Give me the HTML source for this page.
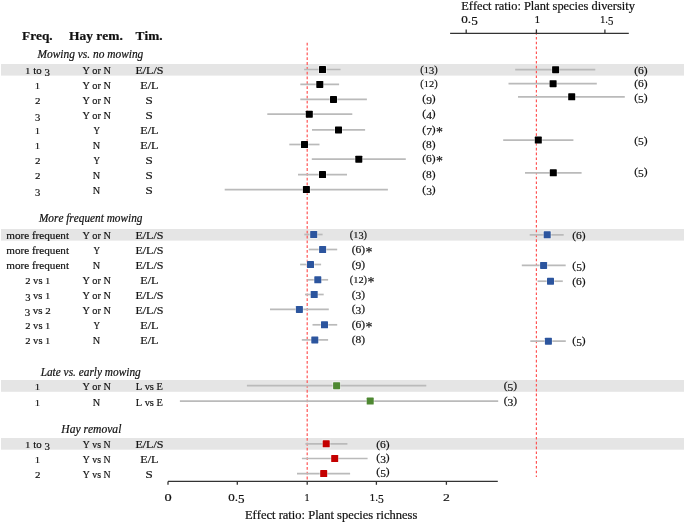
<!DOCTYPE html><html><head><meta charset="utf-8"><style>html,body{margin:0;padding:0;background:#fff;}svg{display:block;will-change:transform;}text{font-family:"Liberation Serif", serif;fill:#111;font-kerning:none;font-variant-ligatures:none;white-space:pre;stroke:#111;stroke-width:0.2px;}</style></head><body>
<svg width="685" height="523" viewBox="0 0 685 523">
<rect x="1" y="64" width="683" height="11.6" fill="#e5e5e5"/>
<rect x="1" y="229" width="683" height="11.6" fill="#e5e5e5"/>
<rect x="1" y="380" width="683" height="11.8" fill="#e5e5e5"/>
<rect x="1" y="438" width="683" height="11.7" fill="#e5e5e5"/>
<line x1="307.2" y1="42.8" x2="307.2" y2="481" stroke="#ff5555" stroke-width="1.2" stroke-dasharray="2.8 2.02"/>
<line x1="536.4" y1="32.1" x2="536.4" y2="477" stroke="#ff5555" stroke-width="1.2" stroke-dasharray="2.6 2.22"/>
<g stroke="#333" stroke-width="1.3" fill="none">
<line x1="168" y1="481.4" x2="497.8" y2="481.4"/>
<line x1="168.0" y1="481.4" x2="168.0" y2="484.8"/>
<line x1="237.3" y1="481.4" x2="237.3" y2="484.8"/>
<line x1="307.2" y1="481.4" x2="307.2" y2="484.8"/>
<line x1="376.4" y1="481.4" x2="376.4" y2="484.8"/>
<line x1="446.4" y1="481.4" x2="446.4" y2="484.8"/>
<line x1="450.1" y1="33.4" x2="628.8" y2="33.4"/>
<line x1="466.2" y1="29.4" x2="466.2" y2="33.4"/>
<line x1="536.4" y1="29.4" x2="536.4" y2="33.4"/>
<line x1="604.9" y1="29.4" x2="604.9" y2="33.4"/>
</g>
<line x1="304.1" y1="69.5" x2="340.6" y2="69.5" stroke="#bababa" stroke-width="1.7"/>
<line x1="300.3" y1="84.4" x2="339.1" y2="84.4" stroke="#bababa" stroke-width="1.7"/>
<line x1="300.3" y1="99.4" x2="366.9" y2="99.4" stroke="#bababa" stroke-width="1.7"/>
<line x1="267.3" y1="114.2" x2="352.3" y2="114.2" stroke="#bababa" stroke-width="1.7"/>
<line x1="312" y1="129.9" x2="365.1" y2="129.9" stroke="#bababa" stroke-width="1.7"/>
<line x1="289.3" y1="144.5" x2="319.5" y2="144.5" stroke="#bababa" stroke-width="1.7"/>
<line x1="311.8" y1="159.2" x2="405.8" y2="159.2" stroke="#bababa" stroke-width="1.7"/>
<line x1="298" y1="174.6" x2="347" y2="174.6" stroke="#bababa" stroke-width="1.7"/>
<line x1="224.7" y1="189.6" x2="387.9" y2="189.6" stroke="#bababa" stroke-width="1.7"/>
<rect x="318.10" y="65.10" width="8.8" height="8.8" fill="#fff" fill-opacity="0.4"/>
<rect x="319.00" y="66.00" width="7" height="7" rx="0.6" fill="#000000"/>
<rect x="315.40" y="80.00" width="8.8" height="8.8" fill="#fff" fill-opacity="0.4"/>
<rect x="316.30" y="80.90" width="7" height="7" rx="0.6" fill="#000000"/>
<rect x="329.10" y="95.00" width="8.8" height="8.8" fill="#fff" fill-opacity="0.4"/>
<rect x="330.00" y="95.90" width="7" height="7" rx="0.6" fill="#000000"/>
<rect x="304.90" y="109.80" width="8.8" height="8.8" fill="#fff" fill-opacity="0.4"/>
<rect x="305.80" y="110.70" width="7" height="7" rx="0.6" fill="#000000"/>
<rect x="334.10" y="125.50" width="8.8" height="8.8" fill="#fff" fill-opacity="0.4"/>
<rect x="335.00" y="126.40" width="7" height="7" rx="0.6" fill="#000000"/>
<rect x="300.10" y="140.10" width="8.8" height="8.8" fill="#fff" fill-opacity="0.4"/>
<rect x="301.00" y="141.00" width="7" height="7" rx="0.6" fill="#000000"/>
<rect x="354.40" y="154.80" width="8.8" height="8.8" fill="#fff" fill-opacity="0.4"/>
<rect x="355.30" y="155.70" width="7" height="7" rx="0.6" fill="#000000"/>
<rect x="318.10" y="170.20" width="8.8" height="8.8" fill="#fff" fill-opacity="0.4"/>
<rect x="319.00" y="171.10" width="7" height="7" rx="0.6" fill="#000000"/>
<rect x="302.00" y="185.20" width="8.8" height="8.8" fill="#fff" fill-opacity="0.4"/>
<rect x="302.90" y="186.10" width="7" height="7" rx="0.6" fill="#000000"/>
<line x1="515.2" y1="69.7" x2="595.3" y2="69.7" stroke="#bababa" stroke-width="1.7"/>
<line x1="508.5" y1="83.7" x2="596.8" y2="83.7" stroke="#bababa" stroke-width="1.7"/>
<line x1="518" y1="96.8" x2="624.8" y2="96.8" stroke="#bababa" stroke-width="1.7"/>
<line x1="503.2" y1="140.1" x2="573.4" y2="140.1" stroke="#bababa" stroke-width="1.7"/>
<line x1="525" y1="172.8" x2="581.6" y2="172.8" stroke="#bababa" stroke-width="1.7"/>
<rect x="551.20" y="65.30" width="8.8" height="8.8" fill="#fff" fill-opacity="0.4"/>
<rect x="552.10" y="66.20" width="7" height="7" rx="0.6" fill="#000000"/>
<rect x="548.70" y="79.30" width="8.8" height="8.8" fill="#fff" fill-opacity="0.4"/>
<rect x="549.60" y="80.20" width="7" height="7" rx="0.6" fill="#000000"/>
<rect x="567.30" y="92.40" width="8.8" height="8.8" fill="#fff" fill-opacity="0.4"/>
<rect x="568.20" y="93.30" width="7" height="7" rx="0.6" fill="#000000"/>
<rect x="533.90" y="135.70" width="8.8" height="8.8" fill="#fff" fill-opacity="0.4"/>
<rect x="534.80" y="136.60" width="7" height="7" rx="0.6" fill="#000000"/>
<rect x="548.90" y="168.40" width="8.8" height="8.8" fill="#fff" fill-opacity="0.4"/>
<rect x="549.80" y="169.30" width="7" height="7" rx="0.6" fill="#000000"/>
<line x1="304.3" y1="234.5" x2="322.6" y2="234.5" stroke="#bababa" stroke-width="1.7"/>
<line x1="308.8" y1="249.5" x2="337.2" y2="249.5" stroke="#bababa" stroke-width="1.7"/>
<line x1="300.1" y1="264.5" x2="321.1" y2="264.5" stroke="#bababa" stroke-width="1.7"/>
<line x1="307.4" y1="279.8" x2="328.1" y2="279.8" stroke="#bababa" stroke-width="1.7"/>
<line x1="305" y1="294.5" x2="323.7" y2="294.5" stroke="#bababa" stroke-width="1.7"/>
<line x1="270" y1="309.4" x2="328.8" y2="309.4" stroke="#bababa" stroke-width="1.7"/>
<line x1="312.5" y1="324.8" x2="337.2" y2="324.8" stroke="#bababa" stroke-width="1.7"/>
<line x1="301.8" y1="339.9" x2="328.1" y2="339.9" stroke="#bababa" stroke-width="1.7"/>
<rect x="309.30" y="230.10" width="8.8" height="8.8" fill="#fff" fill-opacity="0.4"/>
<rect x="310.20" y="231.00" width="7" height="7" rx="0.6" fill="#2c559e"/>
<rect x="318.20" y="245.10" width="8.8" height="8.8" fill="#fff" fill-opacity="0.4"/>
<rect x="319.10" y="246.00" width="7" height="7" rx="0.6" fill="#2c559e"/>
<rect x="306.10" y="260.10" width="8.8" height="8.8" fill="#fff" fill-opacity="0.4"/>
<rect x="307.00" y="261.00" width="7" height="7" rx="0.6" fill="#2c559e"/>
<rect x="313.40" y="275.40" width="8.8" height="8.8" fill="#fff" fill-opacity="0.4"/>
<rect x="314.30" y="276.30" width="7" height="7" rx="0.6" fill="#2c559e"/>
<rect x="309.80" y="290.10" width="8.8" height="8.8" fill="#fff" fill-opacity="0.4"/>
<rect x="310.70" y="291.00" width="7" height="7" rx="0.6" fill="#2c559e"/>
<rect x="295.00" y="305.00" width="8.8" height="8.8" fill="#fff" fill-opacity="0.4"/>
<rect x="295.90" y="305.90" width="7" height="7" rx="0.6" fill="#2c559e"/>
<rect x="320.10" y="320.40" width="8.8" height="8.8" fill="#fff" fill-opacity="0.4"/>
<rect x="321.00" y="321.30" width="7" height="7" rx="0.6" fill="#2c559e"/>
<rect x="310.40" y="335.50" width="8.8" height="8.8" fill="#fff" fill-opacity="0.4"/>
<rect x="311.30" y="336.40" width="7" height="7" rx="0.6" fill="#2c559e"/>
<line x1="529.7" y1="234.8" x2="563.7" y2="234.8" stroke="#bababa" stroke-width="1.7"/>
<line x1="521.8" y1="265.4" x2="565.7" y2="265.4" stroke="#bababa" stroke-width="1.7"/>
<line x1="537.6" y1="281.2" x2="562.8" y2="281.2" stroke="#bababa" stroke-width="1.7"/>
<line x1="530.3" y1="341.2" x2="565.8" y2="341.2" stroke="#bababa" stroke-width="1.7"/>
<rect x="542.80" y="230.40" width="8.8" height="8.8" fill="#fff" fill-opacity="0.4"/>
<rect x="543.70" y="231.30" width="7" height="7" rx="0.6" fill="#2c559e"/>
<rect x="539.20" y="261.00" width="8.8" height="8.8" fill="#fff" fill-opacity="0.4"/>
<rect x="540.10" y="261.90" width="7" height="7" rx="0.6" fill="#2c559e"/>
<rect x="546.10" y="276.80" width="8.8" height="8.8" fill="#fff" fill-opacity="0.4"/>
<rect x="547.00" y="277.70" width="7" height="7" rx="0.6" fill="#2c559e"/>
<rect x="544.00" y="336.80" width="8.8" height="8.8" fill="#fff" fill-opacity="0.4"/>
<rect x="544.90" y="337.70" width="7" height="7" rx="0.6" fill="#2c559e"/>
<line x1="246.9" y1="385.7" x2="426.3" y2="385.7" stroke="#bababa" stroke-width="1.7"/>
<line x1="179.9" y1="401.1" x2="498.2" y2="401.1" stroke="#bababa" stroke-width="1.7"/>
<rect x="332.20" y="381.30" width="8.8" height="8.8" fill="#fff" fill-opacity="0.4"/>
<rect x="333.10" y="382.20" width="7" height="7" rx="0.6" fill="#4e8832"/>
<rect x="365.80" y="396.70" width="8.8" height="8.8" fill="#fff" fill-opacity="0.4"/>
<rect x="366.70" y="397.60" width="7" height="7" rx="0.6" fill="#4e8832"/>
<line x1="305.4" y1="443.8" x2="347.4" y2="443.8" stroke="#bababa" stroke-width="1.7"/>
<line x1="301.9" y1="458.5" x2="367.6" y2="458.5" stroke="#bababa" stroke-width="1.7"/>
<line x1="297" y1="473.6" x2="350.1" y2="473.6" stroke="#bababa" stroke-width="1.7"/>
<rect x="321.80" y="439.40" width="8.8" height="8.8" fill="#fff" fill-opacity="0.4"/>
<rect x="322.70" y="440.30" width="7" height="7" rx="0.6" fill="#c40000"/>
<rect x="330.30" y="454.10" width="8.8" height="8.8" fill="#fff" fill-opacity="0.4"/>
<rect x="331.20" y="455.00" width="7" height="7" rx="0.6" fill="#c40000"/>
<rect x="319.30" y="469.20" width="8.8" height="8.8" fill="#fff" fill-opacity="0.4"/>
<rect x="320.20" y="470.10" width="7" height="7" rx="0.6" fill="#c40000"/>
<text x="22.07" y="39.70" textLength="30.60" lengthAdjust="spacingAndGlyphs" font-size="12" font-weight="bold">Freq.</text>
<text x="69.07" y="40.00" textLength="53.82" lengthAdjust="spacingAndGlyphs" font-size="12" font-weight="bold">Hay rem.</text>
<text x="135.60" y="40.00" textLength="26.98" lengthAdjust="spacingAndGlyphs" font-size="12" font-weight="bold">Tim.</text>
<text x="37.54" y="58.00" textLength="105.79" lengthAdjust="spacingAndGlyphs" font-size="11.5" font-style="italic">Mowing vs. no mowing</text>
<text x="38.94" y="222.00" textLength="103.50" lengthAdjust="spacingAndGlyphs" font-size="11.5" font-style="italic">More frequent mowing</text>
<text x="40.64" y="376.00" textLength="100.09" lengthAdjust="spacingAndGlyphs" font-size="11.5" font-style="italic">Late vs. early mowing</text>
<text x="61.33" y="432.80" textLength="60.03" lengthAdjust="spacingAndGlyphs" font-size="11.5" font-style="italic">Hay removal</text>
<text transform="translate(25.05,74.00) scale(0.9709,0.78)" font-size="11.2">1</text>
<text x="30.49" y="74.00" textLength="13.89" lengthAdjust="spacingAndGlyphs" font-size="11.2"> to </text>
<text transform="translate(44.39,75.90) scale(0.9709,1.0)" font-size="11.2">3</text>
<text x="82.39" y="74.00" textLength="28.55" lengthAdjust="spacingAndGlyphs" font-size="11.2">Y or N</text>
<text x="135.41" y="74.00" textLength="27.97" lengthAdjust="spacingAndGlyphs" font-size="11.2">E/L/S</text>
<text transform="translate(34.86,88.90) scale(0.9611,0.78)" font-size="11.2">1</text>
<text x="82.39" y="88.90" textLength="28.55" lengthAdjust="spacingAndGlyphs" font-size="11.2">Y or N</text>
<text x="140.31" y="88.90" textLength="18.16" lengthAdjust="spacingAndGlyphs" font-size="11.2">E/L</text>
<text transform="translate(35.03,103.90) scale(0.9773,0.78)" font-size="11.2">2</text>
<text x="82.39" y="103.90" textLength="28.55" lengthAdjust="spacingAndGlyphs" font-size="11.2">Y or N</text>
<text transform="translate(145.54,103.90) scale(1.1655,1)" font-size="11.2">S</text>
<text transform="translate(35.00,120.60) scale(0.9489,1.0)" font-size="11.2">3</text>
<text x="82.39" y="118.70" textLength="28.55" lengthAdjust="spacingAndGlyphs" font-size="11.2">Y or N</text>
<text transform="translate(145.54,118.70) scale(1.1655,1)" font-size="11.2">S</text>
<text transform="translate(34.86,134.40) scale(0.9611,0.78)" font-size="11.2">1</text>
<text transform="translate(93.40,134.40) scale(0.8070,1)" font-size="11.2">Y</text>
<text x="140.31" y="134.40" textLength="18.16" lengthAdjust="spacingAndGlyphs" font-size="11.2">E/L</text>
<text transform="translate(34.86,149.00) scale(0.9611,0.78)" font-size="11.2">1</text>
<text transform="translate(92.86,149.00) scale(0.9168,1)" font-size="11.2">N</text>
<text x="140.31" y="149.00" textLength="18.16" lengthAdjust="spacingAndGlyphs" font-size="11.2">E/L</text>
<text transform="translate(35.03,163.70) scale(0.9773,0.78)" font-size="11.2">2</text>
<text transform="translate(93.40,163.70) scale(0.8070,1)" font-size="11.2">Y</text>
<text transform="translate(145.54,163.70) scale(1.1655,1)" font-size="11.2">S</text>
<text transform="translate(35.03,179.10) scale(0.9773,0.78)" font-size="11.2">2</text>
<text transform="translate(92.86,179.10) scale(0.9168,1)" font-size="11.2">N</text>
<text transform="translate(145.54,179.10) scale(1.1655,1)" font-size="11.2">S</text>
<text transform="translate(35.00,196.00) scale(0.9489,1.0)" font-size="11.2">3</text>
<text transform="translate(92.86,194.10) scale(0.9168,1)" font-size="11.2">N</text>
<text transform="translate(145.54,194.10) scale(1.1655,1)" font-size="11.2">S</text>
<text x="6.22" y="239.00" textLength="62.80" lengthAdjust="spacingAndGlyphs" font-size="11.2">more frequent</text>
<text x="82.39" y="239.00" textLength="28.55" lengthAdjust="spacingAndGlyphs" font-size="11.2">Y or N</text>
<text x="135.41" y="239.00" textLength="27.97" lengthAdjust="spacingAndGlyphs" font-size="11.2">E/L/S</text>
<text x="6.22" y="254.00" textLength="62.80" lengthAdjust="spacingAndGlyphs" font-size="11.2">more frequent</text>
<text transform="translate(93.40,254.00) scale(0.8070,1)" font-size="11.2">Y</text>
<text x="135.41" y="254.00" textLength="27.97" lengthAdjust="spacingAndGlyphs" font-size="11.2">E/L/S</text>
<text x="6.22" y="269.00" textLength="62.80" lengthAdjust="spacingAndGlyphs" font-size="11.2">more frequent</text>
<text transform="translate(92.86,269.00) scale(0.9168,1)" font-size="11.2">N</text>
<text x="135.41" y="269.00" textLength="27.97" lengthAdjust="spacingAndGlyphs" font-size="11.2">E/L/S</text>
<text transform="translate(25.20,284.30) scale(0.9413,0.78)" font-size="11.2">2</text>
<text x="30.47" y="284.30" textLength="14.65" lengthAdjust="spacingAndGlyphs" font-size="11.2"> vs </text>
<text transform="translate(45.11,284.30) scale(0.9413,0.78)" font-size="11.2">1</text>
<text x="82.39" y="284.30" textLength="28.55" lengthAdjust="spacingAndGlyphs" font-size="11.2">Y or N</text>
<text x="140.31" y="284.30" textLength="18.16" lengthAdjust="spacingAndGlyphs" font-size="11.2">E/L</text>
<text transform="translate(25.15,300.90) scale(0.9429,1.0)" font-size="11.2">3</text>
<text x="30.43" y="299.00" textLength="14.67" lengthAdjust="spacingAndGlyphs" font-size="11.2"> vs </text>
<text transform="translate(45.10,299.00) scale(0.9429,0.78)" font-size="11.2">1</text>
<text x="82.39" y="299.00" textLength="28.55" lengthAdjust="spacingAndGlyphs" font-size="11.2">Y or N</text>
<text x="135.41" y="299.00" textLength="27.97" lengthAdjust="spacingAndGlyphs" font-size="11.2">E/L/S</text>
<text transform="translate(24.63,315.80) scale(0.9799,1.0)" font-size="11.2">3</text>
<text x="30.12" y="313.90" textLength="15.25" lengthAdjust="spacingAndGlyphs" font-size="11.2"> vs </text>
<text transform="translate(45.37,313.90) scale(0.9799,0.78)" font-size="11.2">2</text>
<text x="82.39" y="313.90" textLength="28.55" lengthAdjust="spacingAndGlyphs" font-size="11.2">Y or N</text>
<text x="135.41" y="313.90" textLength="27.97" lengthAdjust="spacingAndGlyphs" font-size="11.2">E/L/S</text>
<text transform="translate(25.20,329.30) scale(0.9413,0.78)" font-size="11.2">2</text>
<text x="30.47" y="329.30" textLength="14.65" lengthAdjust="spacingAndGlyphs" font-size="11.2"> vs </text>
<text transform="translate(45.11,329.30) scale(0.9413,0.78)" font-size="11.2">1</text>
<text transform="translate(93.40,329.30) scale(0.8070,1)" font-size="11.2">Y</text>
<text x="140.31" y="329.30" textLength="18.16" lengthAdjust="spacingAndGlyphs" font-size="11.2">E/L</text>
<text transform="translate(25.20,344.40) scale(0.9413,0.78)" font-size="11.2">2</text>
<text x="30.47" y="344.40" textLength="14.65" lengthAdjust="spacingAndGlyphs" font-size="11.2"> vs </text>
<text transform="translate(45.11,344.40) scale(0.9413,0.78)" font-size="11.2">1</text>
<text transform="translate(92.86,344.40) scale(0.9168,1)" font-size="11.2">N</text>
<text x="140.31" y="344.40" textLength="18.16" lengthAdjust="spacingAndGlyphs" font-size="11.2">E/L</text>
<text transform="translate(34.86,390.20) scale(0.9611,0.78)" font-size="11.2">1</text>
<text x="82.39" y="390.20" textLength="28.55" lengthAdjust="spacingAndGlyphs" font-size="11.2">Y or N</text>
<text x="135.70" y="390.20" textLength="27.21" lengthAdjust="spacingAndGlyphs" font-size="11.2">L vs E</text>
<text transform="translate(34.86,405.60) scale(0.9611,0.78)" font-size="11.2">1</text>
<text transform="translate(92.86,405.60) scale(0.9168,1)" font-size="11.2">N</text>
<text x="135.70" y="405.60" textLength="27.21" lengthAdjust="spacingAndGlyphs" font-size="11.2">L vs E</text>
<text transform="translate(25.05,448.30) scale(0.9709,0.78)" font-size="11.2">1</text>
<text x="30.49" y="448.30" textLength="13.89" lengthAdjust="spacingAndGlyphs" font-size="11.2"> to </text>
<text transform="translate(44.39,450.20) scale(0.9709,1.0)" font-size="11.2">3</text>
<text x="82.84" y="448.30" textLength="27.63" lengthAdjust="spacingAndGlyphs" font-size="11.2">Y vs N</text>
<text x="135.41" y="448.30" textLength="27.97" lengthAdjust="spacingAndGlyphs" font-size="11.2">E/L/S</text>
<text transform="translate(34.86,463.00) scale(0.9611,0.78)" font-size="11.2">1</text>
<text x="82.84" y="463.00" textLength="27.63" lengthAdjust="spacingAndGlyphs" font-size="11.2">Y vs N</text>
<text x="140.31" y="463.00" textLength="18.16" lengthAdjust="spacingAndGlyphs" font-size="11.2">E/L</text>
<text transform="translate(35.03,478.10) scale(0.9773,0.78)" font-size="11.2">2</text>
<text x="82.84" y="478.10" textLength="27.63" lengthAdjust="spacingAndGlyphs" font-size="11.2">Y vs N</text>
<text transform="translate(145.54,478.10) scale(1.1655,1)" font-size="11.2">S</text>
<text transform="translate(420.35,72.55) scale(0.9268,1)" font-size="11.2">(</text>
<text transform="translate(423.81,72.55) scale(0.9268,0.78)" font-size="11.2">1</text>
<text transform="translate(429.00,74.45) scale(0.9268,1.0)" font-size="11.2">3</text>
<text transform="translate(434.19,72.55) scale(0.9268,1)" font-size="11.2">)</text>
<text transform="translate(420.35,87.45) scale(0.9268,1)" font-size="11.2">(</text>
<text transform="translate(423.81,87.45) scale(0.9268,0.78)" font-size="11.2">1</text>
<text transform="translate(429.00,87.45) scale(0.9268,0.78)" font-size="11.2">2</text>
<text transform="translate(434.19,87.45) scale(0.9268,1)" font-size="11.2">)</text>
<text transform="translate(422.31,102.45) scale(1.0251,1)" font-size="11.2">(</text>
<text transform="translate(426.13,104.35) scale(1.0251,1.0)" font-size="11.2">9</text>
<text transform="translate(431.87,102.45) scale(1.0251,1)" font-size="11.2">)</text>
<text transform="translate(422.31,117.25) scale(1.0251,1)" font-size="11.2">(</text>
<text transform="translate(426.13,119.15) scale(1.0251,1.0)" font-size="11.2">4</text>
<text transform="translate(431.87,117.25) scale(1.0251,1)" font-size="11.2">)</text>
<text transform="translate(422.31,132.95) scale(1.0251,1)" font-size="11.2">(</text>
<text transform="translate(426.13,134.85) scale(1.0251,1.0)" font-size="11.2">7</text>
<text transform="translate(431.87,132.95) scale(1.0251,1)" font-size="11.2">)</text>
<text transform="translate(436.04,137.00) scale(0.9877,1)" font-size="14" fill="#111" stroke-width="0">*</text>
<text x="422.31" y="147.55" textLength="13.39" lengthAdjust="spacingAndGlyphs" font-size="11.2">(8)</text>
<text x="422.31" y="162.25" textLength="13.39" lengthAdjust="spacingAndGlyphs" font-size="11.2">(6)</text>
<text transform="translate(436.04,166.30) scale(0.9877,1)" font-size="14" fill="#111" stroke-width="0">*</text>
<text x="422.31" y="177.65" textLength="13.39" lengthAdjust="spacingAndGlyphs" font-size="11.2">(8)</text>
<text transform="translate(422.31,192.65) scale(1.0251,1)" font-size="11.2">(</text>
<text transform="translate(426.13,194.55) scale(1.0251,1.0)" font-size="11.2">3</text>
<text transform="translate(431.87,192.65) scale(1.0251,1)" font-size="11.2">)</text>
<text transform="translate(349.75,237.55) scale(0.9268,1)" font-size="11.2">(</text>
<text transform="translate(353.21,237.55) scale(0.9268,0.78)" font-size="11.2">1</text>
<text transform="translate(358.40,239.45) scale(0.9268,1.0)" font-size="11.2">3</text>
<text transform="translate(363.59,237.55) scale(0.9268,1)" font-size="11.2">)</text>
<text x="351.71" y="252.55" textLength="13.39" lengthAdjust="spacingAndGlyphs" font-size="11.2">(6)</text>
<text transform="translate(365.44,256.60) scale(0.9877,1)" font-size="14" fill="#111" stroke-width="0">*</text>
<text transform="translate(351.71,267.55) scale(1.0251,1)" font-size="11.2">(</text>
<text transform="translate(355.53,269.45) scale(1.0251,1.0)" font-size="11.2">9</text>
<text transform="translate(361.27,267.55) scale(1.0251,1)" font-size="11.2">)</text>
<text transform="translate(349.75,282.85) scale(0.9268,1)" font-size="11.2">(</text>
<text transform="translate(353.21,282.85) scale(0.9268,0.78)" font-size="11.2">1</text>
<text transform="translate(358.40,282.85) scale(0.9268,0.78)" font-size="11.2">2</text>
<text transform="translate(363.59,282.85) scale(0.9268,1)" font-size="11.2">)</text>
<text transform="translate(367.44,286.90) scale(0.9877,1)" font-size="14" fill="#111" stroke-width="0">*</text>
<text transform="translate(351.71,297.55) scale(1.0251,1)" font-size="11.2">(</text>
<text transform="translate(355.53,299.45) scale(1.0251,1.0)" font-size="11.2">3</text>
<text transform="translate(361.27,297.55) scale(1.0251,1)" font-size="11.2">)</text>
<text transform="translate(351.71,312.45) scale(1.0251,1)" font-size="11.2">(</text>
<text transform="translate(355.53,314.35) scale(1.0251,1.0)" font-size="11.2">3</text>
<text transform="translate(361.27,312.45) scale(1.0251,1)" font-size="11.2">)</text>
<text x="351.71" y="327.85" textLength="13.39" lengthAdjust="spacingAndGlyphs" font-size="11.2">(6)</text>
<text transform="translate(365.44,331.90) scale(0.9877,1)" font-size="14" fill="#111" stroke-width="0">*</text>
<text x="351.71" y="342.95" textLength="13.39" lengthAdjust="spacingAndGlyphs" font-size="11.2">(8)</text>
<text transform="translate(503.71,388.75) scale(1.0251,1)" font-size="11.2">(</text>
<text transform="translate(507.53,390.65) scale(1.0251,1.0)" font-size="11.2">5</text>
<text transform="translate(513.27,388.75) scale(1.0251,1)" font-size="11.2">)</text>
<text transform="translate(503.71,404.15) scale(1.0251,1)" font-size="11.2">(</text>
<text transform="translate(507.53,406.05) scale(1.0251,1.0)" font-size="11.2">3</text>
<text transform="translate(513.27,404.15) scale(1.0251,1)" font-size="11.2">)</text>
<text x="376.31" y="447.95" textLength="13.39" lengthAdjust="spacingAndGlyphs" font-size="11.2">(6)</text>
<text transform="translate(376.31,460.95) scale(1.0251,1)" font-size="11.2">(</text>
<text transform="translate(380.13,462.85) scale(1.0251,1.0)" font-size="11.2">3</text>
<text transform="translate(385.87,460.95) scale(1.0251,1)" font-size="11.2">)</text>
<text transform="translate(376.31,474.95) scale(1.0251,1)" font-size="11.2">(</text>
<text transform="translate(380.13,476.85) scale(1.0251,1.0)" font-size="11.2">5</text>
<text transform="translate(385.87,474.95) scale(1.0251,1)" font-size="11.2">)</text>
<text x="634.21" y="73.55" textLength="13.39" lengthAdjust="spacingAndGlyphs" font-size="11.2">(6)</text>
<text x="634.21" y="87.25" textLength="13.39" lengthAdjust="spacingAndGlyphs" font-size="11.2">(6)</text>
<text transform="translate(634.21,100.95) scale(1.0251,1)" font-size="11.2">(</text>
<text transform="translate(638.03,102.85) scale(1.0251,1.0)" font-size="11.2">5</text>
<text transform="translate(643.77,100.95) scale(1.0251,1)" font-size="11.2">)</text>
<text transform="translate(634.21,143.55) scale(1.0251,1)" font-size="11.2">(</text>
<text transform="translate(638.03,145.45) scale(1.0251,1.0)" font-size="11.2">5</text>
<text transform="translate(643.77,143.55) scale(1.0251,1)" font-size="11.2">)</text>
<text transform="translate(634.21,174.65) scale(1.0251,1)" font-size="11.2">(</text>
<text transform="translate(638.03,176.55) scale(1.0251,1.0)" font-size="11.2">5</text>
<text transform="translate(643.77,174.65) scale(1.0251,1)" font-size="11.2">)</text>
<text x="572.31" y="239.35" textLength="13.39" lengthAdjust="spacingAndGlyphs" font-size="11.2">(6)</text>
<text transform="translate(572.31,269.15) scale(1.0251,1)" font-size="11.2">(</text>
<text transform="translate(576.13,271.05) scale(1.0251,1.0)" font-size="11.2">5</text>
<text transform="translate(581.87,269.15) scale(1.0251,1)" font-size="11.2">)</text>
<text x="572.31" y="284.80" textLength="13.39" lengthAdjust="spacingAndGlyphs" font-size="11.2">(6)</text>
<text transform="translate(572.31,344.25) scale(1.0251,1)" font-size="11.2">(</text>
<text transform="translate(576.13,346.15) scale(1.0251,1.0)" font-size="11.2">5</text>
<text transform="translate(581.87,344.25) scale(1.0251,1)" font-size="11.2">)</text>
<text transform="translate(164.45,501.30) scale(1.1989,0.82)" font-size="12">0</text>
<text transform="translate(228.30,501.30) scale(1.0870,0.82)" font-size="12">0</text>
<text transform="translate(234.83,501.30) scale(1.0870,1)" font-size="12">.</text>
<text transform="translate(238.09,503.20) scale(1.0870,1.0)" font-size="12">5</text>
<text transform="translate(304.51,501.30) scale(0.8499,0.82)" font-size="12">1</text>
<text transform="translate(369.50,501.30) scale(0.9564,0.82)" font-size="12">1</text>
<text transform="translate(375.24,501.30) scale(0.9564,1)" font-size="12">.</text>
<text transform="translate(378.11,503.20) scale(0.9564,1.0)" font-size="12">5</text>
<text transform="translate(442.91,501.30) scale(1.1401,0.82)" font-size="12">2</text>
<text transform="translate(461.30,23.30) scale(1.0941,0.82)" font-size="12">0</text>
<text transform="translate(467.87,23.30) scale(1.0941,1)" font-size="12">.</text>
<text transform="translate(471.15,25.20) scale(1.0941,1.0)" font-size="12">5</text>
<text transform="translate(534.51,23.30) scale(0.9443,0.82)" font-size="12">1</text>
<text transform="translate(599.96,23.30) scale(0.8971,0.82)" font-size="12">1</text>
<text transform="translate(605.35,23.30) scale(0.8971,1)" font-size="12">.</text>
<text transform="translate(608.04,25.20) scale(0.8971,1.0)" font-size="12">5</text>
<text x="244.95" y="518.80" textLength="172.39" lengthAdjust="spacingAndGlyphs" font-size="11.5">Effect ratio: Plant species richness</text>
<text x="461.25" y="9.60" textLength="173.68" lengthAdjust="spacingAndGlyphs" font-size="11.5">Effect ratio: Plant species diversity</text>
</svg></body></html>
